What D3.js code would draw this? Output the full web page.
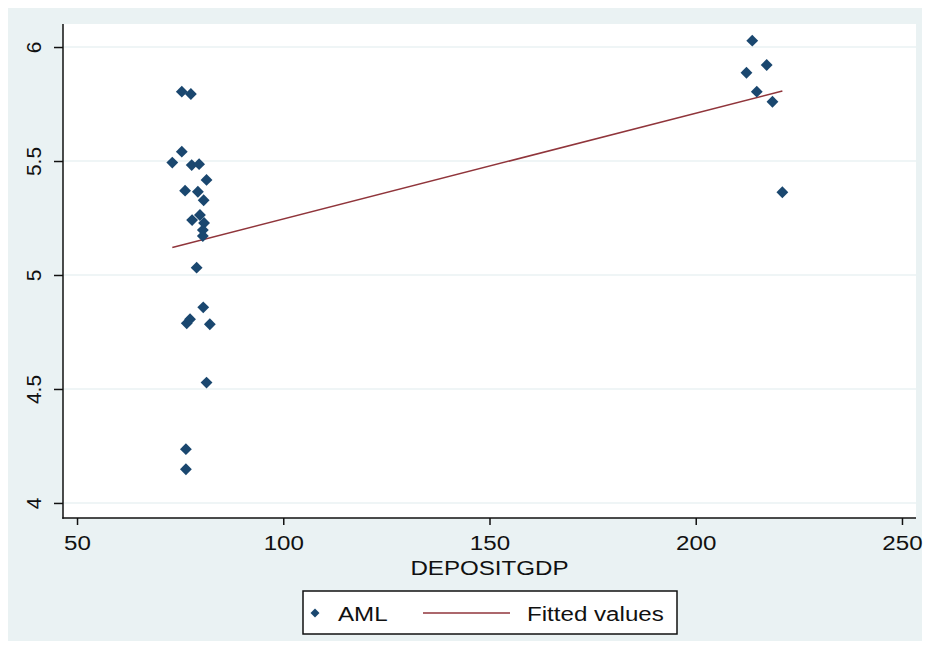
<!DOCTYPE html>
<html>
<head>
<meta charset="utf-8">
<script src="https://cdn.jsdelivr.net/npm/d3@7"></script>
<style>
  body { margin: 0; background: #fff; }
  text { font-family: "Liberation Sans", Arial, sans-serif; fill: #111; }
</style>
</head>
<body>
<script>
(function(){

	//AML scatter values (x = DEPOSITGDP, y = AML)
	var depositGdp = [75.4, 77.6, 75.4, 73.1, 77.8, 79.6, 81.4, 76.2, 79.3, 80.7,
		77.9, 79.8, 80.8, 80.5, 80.5, 79.0, 80.6, 76.6, 77.4, 82.2,
		81.4, 76.4, 76.4,
		213.7, 212.3, 217.2, 214.8, 218.6, 221.0];
	var aml = [5.804, 5.794, 5.541, 5.493, 5.482, 5.486, 5.417, 5.370, 5.365, 5.328,
		5.241, 5.263, 5.228, 5.197, 5.171, 5.032, 4.858, 4.788, 4.806, 4.784,
		4.528, 4.236, 4.148,
		6.028, 5.887, 5.921, 5.804, 5.760, 5.363];

	//fitted line end points
	var fitX = [73.1, 221.0];
	var fitY = [5.121, 5.807];

	var xTicks = [50, 100, 150, 200, 250];
	var yTicks = [4, 4.5, 5, 5.5, 6];
	var legendLabels = ["AML", "Fitted values"];

	var width = 926, height = 647;
	var plotLeft = 63, plotRight = 916, plotTop = 24, plotBottom = 518;

	var svg = d3.select("body")
		.append("svg")
		.attr("width", width)
		.attr("height", height);

	//graph region background
	svg.append("rect")
		.attr("x", 8).attr("y", 8)
		.attr("width", 914).attr("height", 633)
		.attr("fill", "#eaf2f3");

	//plot region
	svg.append("rect")
		.attr("x", plotLeft).attr("y", plotTop)
		.attr("width", plotRight - plotLeft).attr("height", plotBottom - plotTop)
		.attr("fill", "#fff");

	var x = d3.scaleLinear().domain([46.6, 253.4]).range([plotLeft, plotRight]);
	var y = d3.scaleLinear().domain([3.934, 6.101]).range([plotBottom, plotTop]);

	//grid lines
	svg.append("g").selectAll("line")
		.data(yTicks)
		.enter()
		.append("line")
		.attr("x1", plotLeft).attr("x2", plotRight)
		.attr("y1", function(d){ return y(d); })
		.attr("y2", function(d){ return y(d); })
		.attr("stroke", "#eaf2f3")
		.attr("stroke-width", 1.5);

	//x axis
	var xAxis = svg.append("g")
		.attr("transform", "translate(0," + plotBottom + ")")
		.call(d3.axisBottom(x).tickValues(xTicks).tickSize(7).tickPadding(10).tickFormat(d3.format("d")));
	xAxis.select(".domain").remove();
	xAxis.selectAll(".tick line").attr("stroke", "#111").attr("stroke-width", 1.5);
	xAxis.selectAll(".tick text")
		.attr("font-size", 21)
		.attr("font-family", "Liberation Sans, Arial, sans-serif")
		.attr("fill", "#111")
		.attr("transform", "scale(1.15,1)");

	//y axis
	var yAxis = svg.append("g")
		.attr("transform", "translate(" + plotLeft + ",0)")
		.call(d3.axisLeft(y).tickValues(yTicks).tickSize(9).tickFormat(d3.format("")));
	yAxis.select(".domain").remove();
	yAxis.selectAll(".tick line").attr("stroke", "#111").attr("stroke-width", 1.5);
	yAxis.selectAll(".tick text")
		.attr("font-size", 21)
		.attr("font-family", "Liberation Sans, Arial, sans-serif")
		.attr("fill", "#111")
		.attr("x", null).attr("dy", null)
		.attr("text-anchor", "middle")
		.attr("transform", "translate(-22,0) rotate(-90)");

	//axis lines
	svg.append("line")
		.attr("x1", plotLeft).attr("x2", plotLeft)
		.attr("y1", plotTop).attr("y2", plotBottom + 0.75)
		.attr("stroke", "#111").attr("stroke-width", 1.5);
	svg.append("line")
		.attr("x1", plotLeft - 0.75).attr("x2", plotRight)
		.attr("y1", plotBottom).attr("y2", plotBottom)
		.attr("stroke", "#111").attr("stroke-width", 1.5);

	//axis title
	svg.append("text")
		.attr("transform", "translate(" + (plotLeft + plotRight) / 2 + ",575) scale(1.15,1)")
		.attr("text-anchor", "middle")
		.attr("font-size", 21)
		.text("DEPOSITGDP");

	//fitted line
	var line = d3.line()
		.x(function(d){ return x(d[0]); })
		.y(function(d){ return y(d[1]); });
	svg.append("path")
		.datum(d3.zip(fitX, fitY))
		.attr("d", line)
		.attr("fill", "none")
		.attr("stroke", "#90353b")
		.attr("stroke-width", 1.5);

	//diamond markers
	var diamond = d3.symbol().type(d3.symbolSquare).size(70);
	svg.append("g").selectAll("path")
		.data(d3.zip(depositGdp, aml))
		.enter()
		.append("path")
		.attr("d", diamond)
		.attr("transform", function(d){
			return "translate(" + x(d[0]) + "," + y(d[1]) + ") rotate(45)";
		})
		.attr("fill", "#1a476f");

	//legend
	var legend = svg.append("g");
	legend.append("rect")
		.attr("x", 303).attr("y", 591)
		.attr("width", 374).attr("height", 43)
		.attr("fill", "#fff")
		.attr("stroke", "#111")
		.attr("stroke-width", 1.5);
	legend.append("path")
		.attr("d", d3.symbol().type(d3.symbolSquare).size(40))
		.attr("transform", "translate(315,613) rotate(45)")
		.attr("fill", "#1a476f");
	legend.append("text")
		.attr("transform", "translate(338,621) scale(1.15,1)")
		.attr("font-size", 21)
		.text(legendLabels[0]);
	legend.append("line")
		.attr("x1", 423).attr("x2", 510)
		.attr("y1", 613).attr("y2", 613)
		.attr("stroke", "#90353b")
		.attr("stroke-width", 1.5);
	legend.append("text")
		.attr("transform", "translate(527,621) scale(1.15,1)")
		.attr("font-size", 21)
		.text(legendLabels[1]);

})();
</script>
</body>
</html>
